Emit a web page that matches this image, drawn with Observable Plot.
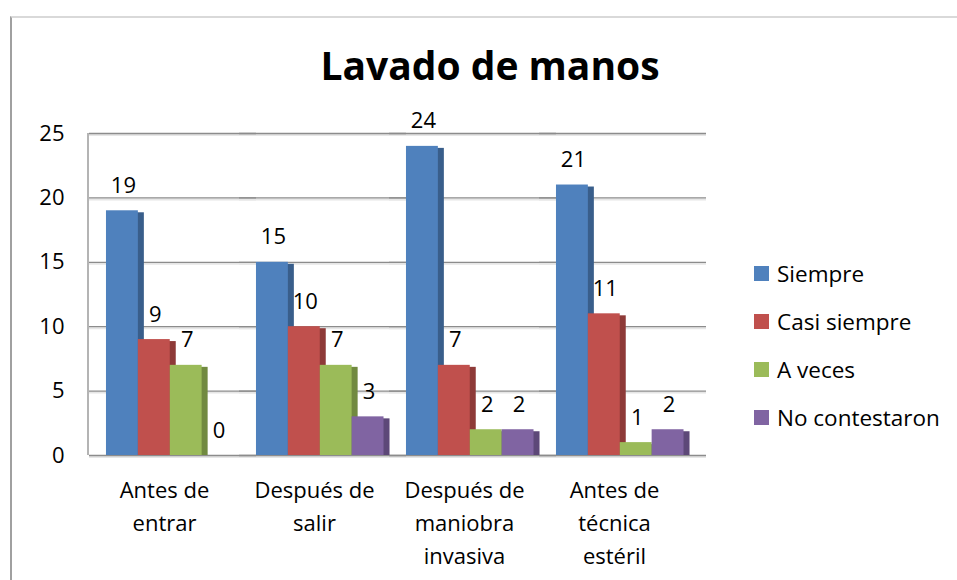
<!DOCTYPE html>
<html>
<head>
<meta charset="utf-8">
<script src="https://cdn.jsdelivr.net/npm/d3@7"></script>
<script src="https://cdn.jsdelivr.net/npm/@observablehq/plot@0.6"></script>
<style>
  html, body { margin: 0; padding: 0; background: #fff; }
  #wrap { position: relative; width: 957px; height: 580px; overflow: hidden; font-family: "Open Sans", sans-serif; }
  #frame { position: absolute; left: 10px; top: 16px; right: -2px; bottom: -2px; border-top: 2px solid #d9d9d9; border-left: 2px solid #a0a0a0; }
  #title { position: absolute; left: 0; width: 980px; top: 37px; text-align: center; font-family: "Open Sans", sans-serif; font-weight: 700; font-size: 39px; line-height: 56px; color: #000; }
  #chart { position: absolute; left: 0; top: 0; }
  #legend { position: absolute; left: 754px; top: 249px; font-family: "Open Sans", sans-serif; font-size: 22.5px; color: #000; }
  .item { display: flex; align-items: center; height: 48px; white-space: nowrap; }
  .sw { width: 15px; height: 15px; margin-right: 8px; }
</style>
</head>
<body>
<div id="wrap">
  <div id="frame"></div>
  <div id="chart"></div>
  <div id="title">Lavado de manos</div>
  <div id="legend"></div>
</div>
<script>
const categories = ["Antes de\nentrar", "Después de\nsalir", "Después de\nmaniobra\ninvasiva", "Antes de\ntécnica\nestéril"];
const series = ["Siempre", "Casi siempre", "A veces", "No contestaron"];
const siempre = [19, 15, 24, 21];
const casiSiempre = [9, 10, 7, 11];
const aVeces = [7, 7, 2, 1];
const noContestaron = [0, 3, 2, 2];
const yTicks = [0, 5, 10, 15, 20, 25];
const colors = ["#4F81BD", "#C0504D", "#9BBB59", "#8064A2"];
const sideColors = ["#395E8B", "#8E3A38", "#718A40", "#5D4878"];

const values = [siempre, casiSiempre, aVeces, noContestaron];
const data = [];
categories.forEach((c, i) => series.forEach((s, j) => data.push({cat: c, serie: s, value: values[j][i]})));

const font = "Open Sans, sans-serif";
const plot = Plot.plot({
  width: 957,
  height: 580,
  marginTop: 133,
  marginBottom: 125,
  marginLeft: 88,
  marginRight: 267,
  style: {fontFamily: font, fontSize: "22px", color: "#000", background: "transparent", overflow: "visible"},
  fx: {domain: categories, paddingInner: 0, paddingOuter: 0, label: null},
  x: {domain: series, paddingInner: 0, paddingOuter: 0.352, align: 0.756, round: false, axis: null},
  y: {domain: [0, 25], ticks: yTicks, label: null},
  color: {domain: series, range: colors},
  marks: [
    Plot.ruleY(yTicks, {stroke: "#e6e6e6", strokeWidth: 2, dy: 1.5, insetRight: -17}),
    Plot.ruleY(yTicks, {stroke: "#8c8c8c", strokeWidth: 1.3, insetRight: -17}),
    Plot.axisY({ticks: yTicks, tickSize: 0, tickPadding: 25, fontSize: 22, label: null}),
    Plot.axisFx({anchor: "bottom", tickSize: 0, tickPadding: 19, fontSize: 22, lineHeight: 1.5, label: null}),
    Plot.barY(data, {fx: "cat", x: "serie", y: "value", fill: d => sideColors[series.indexOf(d.serie)], dx: 6, insetLeft: 24, insetTop: 2}),
    Plot.barY(data, {fx: "cat", x: "serie", y: "value", fill: "serie"}),
    Plot.text(data, {fx: "cat", x: "serie", y: "value", text: d => String(d.value), dy: -25, dx: 1, fontSize: 22, fill: "#000"})
  ]
});
document.getElementById("chart").appendChild(plot);

// left wall edge drawn from the plot's own y scale
const ys = plot.scale("y");
d3.select(plot).append("line")
  .attr("x1", 88).attr("x2", 88)
  .attr("y1", ys.apply(25)).attr("y2", ys.apply(0))
  .attr("stroke", "#8c8c8c").attr("stroke-width", 1.3);

const legend = document.getElementById("legend");
series.forEach((s, i) => {
  const it = document.createElement("div");
  it.className = "item";
  it.innerHTML = `<div class="sw" style="background:${colors[i]}"></div><span>${s}</span>`;
  legend.appendChild(it);
});
</script>
</body>
</html>
